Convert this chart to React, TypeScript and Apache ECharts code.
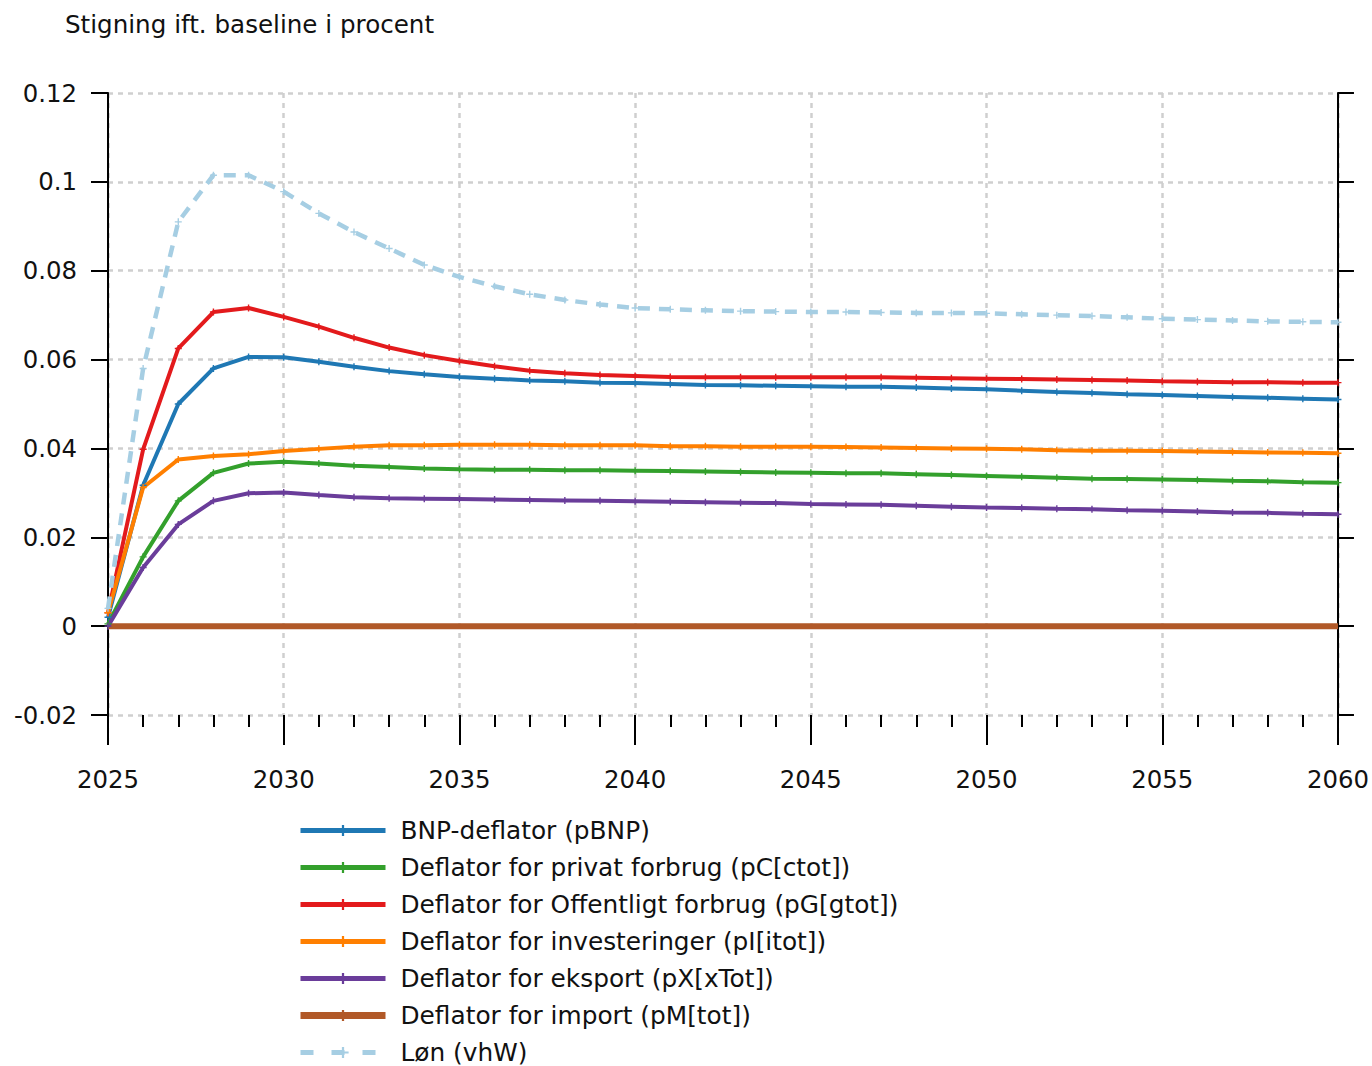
import React, { useEffect, useRef } from "react";
import * as echarts from "echarts";

const years: number[] = [];
for (let y = 2025; y <= 2060; y++) years.push(y);

const titleText = "Stigning ift. baseline i procent";

const seriesNames = [
  "BNP-deflator (pBNP)",
  "Deflator for privat forbrug (pC[ctot])",
  "Deflator for Offentligt forbrug (pG[gtot])",
  "Deflator for investeringer (pI[itot])",
  "Deflator for eksport (pX[xTot])",
  "Deflator for import (pM[tot])",
  "Løn (vhW)",
];

const pBNP = [
  0.002, 0.0317, 0.05, 0.058, 0.0606, 0.0605, 0.0595, 0.0584, 0.0574, 0.0567,
  0.0561, 0.0557, 0.0553, 0.0551, 0.0548, 0.0547, 0.0545, 0.0543, 0.0542, 0.0541,
  0.054, 0.0539, 0.0539, 0.0537, 0.0535, 0.0533, 0.053, 0.0527, 0.0525, 0.0522,
  0.052, 0.0518, 0.0516, 0.0514, 0.0512, 0.051,
];
const pC = [
  0.0005, 0.0156, 0.0282, 0.0345, 0.0366, 0.037, 0.0366, 0.0361, 0.0358, 0.0355,
  0.0353, 0.0352, 0.0352, 0.0351, 0.0351, 0.035, 0.0349, 0.0348, 0.0347, 0.0346,
  0.0345, 0.0344, 0.0344, 0.0342, 0.034, 0.0338, 0.0336, 0.0334, 0.0332, 0.0331,
  0.033, 0.0329, 0.0327, 0.0326, 0.0324, 0.0323,
];
const pG = [
  0.003, 0.0398, 0.0625, 0.0707, 0.0716, 0.0696, 0.0674, 0.0649, 0.0627, 0.061,
  0.0597, 0.0585, 0.0575, 0.0569, 0.0565, 0.0563, 0.0561, 0.056, 0.056, 0.056,
  0.056, 0.056, 0.056, 0.0559, 0.0558, 0.0557, 0.0556, 0.0555, 0.0554, 0.0553,
  0.0551, 0.055, 0.0549, 0.0549, 0.0548, 0.0548,
];
const pI = [
  0.003, 0.0312, 0.0375, 0.0383, 0.0387, 0.0394, 0.0399, 0.0404, 0.0407, 0.0407,
  0.0408, 0.0408, 0.0408, 0.0407, 0.0407, 0.0407, 0.0405, 0.0405, 0.0404, 0.0404,
  0.0404, 0.0403, 0.0402, 0.0401, 0.04, 0.0399, 0.0398, 0.0396, 0.0395, 0.0395,
  0.0394, 0.0393, 0.0392, 0.0391, 0.039, 0.0389,
];
const pX = [
  0.0, 0.0132, 0.0229, 0.0282, 0.0299, 0.0301, 0.0295, 0.029, 0.0288, 0.0287,
  0.0286, 0.0285, 0.0284, 0.0283, 0.0282, 0.0281, 0.028, 0.0279, 0.0278, 0.0277,
  0.0275, 0.0274, 0.0273, 0.0271, 0.0269, 0.0267, 0.0266, 0.0264, 0.0263, 0.0261,
  0.026, 0.0258, 0.0256, 0.0255, 0.0253, 0.0252,
];
const pM = [
  0, 0, 0, 0, 0, 0, 0, 0, 0, 0, 0, 0, 0, 0, 0, 0, 0, 0, 0, 0, 0, 0, 0, 0, 0, 0,
  0, 0, 0, 0, 0, 0, 0, 0, 0, 0,
];
const vhW = [
  0.004, 0.058, 0.091, 0.1015, 0.1015, 0.0978, 0.0929, 0.0887, 0.085, 0.0813,
  0.0786, 0.0765, 0.0747, 0.0734, 0.0724, 0.0716, 0.0713, 0.0711, 0.0709, 0.0708,
  0.0707, 0.0707, 0.0706, 0.0705, 0.0705, 0.0704, 0.0702, 0.07, 0.0698, 0.0695,
  0.0692, 0.069, 0.0688, 0.0686, 0.0685, 0.0684,
];

const seriesValues = [pBNP, pC, pG, pI, pX, pM, vhW];
const colors = ["#1f78b4", "#33a02c", "#e31a1c", "#ff7f00", "#6a3d9a", "#b15928", "#a6cee3"];

const FONT = "DejaVu Sans";
const plus = "path://M4,0H6V4H10V6H6V10H4V6H0V4H4Z";
const TEXT = "#111";
const GRID = { color: "#cfcfcf", width: 2.5, type: [5, 5] };

export default function App() {
  const ref = useRef<HTMLDivElement>(null);
  useEffect(() => {
    if (!ref.current) return;
    const chart = echarts.init(ref.current, null, { renderer: "svg" });
    const series = seriesNames.map((name, i) => {
      const isImport = i === 5;
      const isDash = i === 6;
      return {
        name,
        type: "line",
        data: years.map((y, k) => [y, seriesValues[i][k]]),
        symbol: plus,
        symbolSize: 7,
        showSymbol: !isImport,
        itemStyle: { color: colors[i] },
        lineStyle: {
          color: colors[i],
          width: isImport ? 6 : isDash ? 4.5 : 4,
          type: isDash ? [12, 9] : "solid",
        },
        z: isImport ? 1 : 2,
      };
    });
    const legendData = seriesNames.map((name, i) => ({
      name,
      lineStyle: {
        width: i === 5 ? 7 : 5,
        type: i === 6 ? [13, 18] : "solid",
        color: colors[i],
      },
    }));
    chart.setOption({
      animation: false,
      textStyle: { fontFamily: FONT },
      title: {
        text: titleText,
        left: 65,
        top: 12,
        padding: 0,
        textStyle: { fontFamily: FONT, fontSize: 24.6, fontWeight: "normal", color: TEXT },
      },
      grid: { left: 108, right: 28, top: 93, bottom: 351, containLabel: false },
      legend: {
        orient: "vertical",
        left: 297,
        top: 818,
        height: 260,
        padding: 0,
        itemWidth: 85,
        itemHeight: 14,
        itemGap: 12,
        textStyle: { fontFamily: FONT, fontSize: 24.8, color: TEXT, lineHeight: 24, padding: [0, 0, 0, 10] },
        data: legendData,
      },
      xAxis: {
        type: "value",
        min: 2025,
        max: 2060,
        interval: 5,
        axisLine: { show: false, onZero: false },
        axisTick: { show: true, length: 30, lineStyle: { color: "#000", width: 2 } },
        minorTick: { show: true, splitNumber: 5, length: 12, lineStyle: { color: "#000", width: 2 } },
        splitLine: { show: true, lineStyle: GRID },
        axisLabel: {
          fontFamily: FONT,
          fontSize: 24.4,
          color: TEXT,
          margin: 52,
          formatter: (v: number) => String(v),
        },
      },
      yAxis: [
        {
          type: "value",
          min: -0.02,
          max: 0.12,
          interval: 0.02,
          position: "left",
          axisLine: { show: true, onZero: false, lineStyle: { color: "#000", width: 2 } },
          axisTick: { show: true, length: 17, lineStyle: { color: "#000", width: 2 } },
          splitLine: { show: true, lineStyle: GRID },
          axisLabel: {
            fontFamily: FONT,
            fontSize: 24.4,
            color: TEXT,
            margin: 31,
            formatter: (v: number) => String(Math.round(v * 100) / 100),
          },
        },
        {
          type: "value",
          min: -0.02,
          max: 0.12,
          interval: 0.02,
          position: "right",
          axisLine: { show: true, onZero: false, lineStyle: { color: "#000", width: 2 } },
          axisTick: { show: true, length: 16, lineStyle: { color: "#000", width: 2 } },
          splitLine: { show: false },
          axisLabel: { show: false },
        },
      ],
      series,
    });
    return () => chart.dispose();
  }, []);
  return <div ref={ref} style={{ width: 1372, height: 1066, position: "absolute", left: 0, top: 0 }} />;
}
